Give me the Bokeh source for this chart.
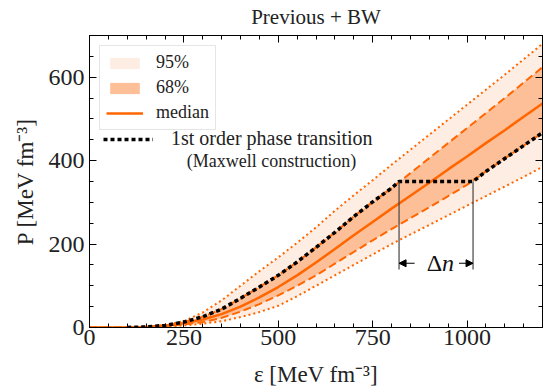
from bokeh.plotting import figure
from bokeh.models import (ColumnDataSource, Legend, LegendItem, LinearAxis, FixedTicker,
                          Label, Arrow, NormalHead, Range1d, CustomLabelingPolicy)
from bokeh.embed import file_html
from bokeh.resources import INLINE

# ---------------- data ----------------
eps = [0, 100, 150, 200, 250, 300, 350, 400, 450, 500, 550, 600, 650, 700, 750,
       800, 850, 900, 950, 1000, 1050, 1100, 1150, 1200]
median = [0, 0, 1, 4, 10, 19, 32, 50, 72, 97, 125, 156, 188, 221, 253,
          285, 316, 347, 379, 410, 442, 473, 505, 537]
upper68 = [0, 0, 1.5, 5, 13, 26, 44, 70, 97, 125, 157, 192, 228, 266, 301,
           334, 370, 406, 442, 478, 514, 550, 587, 624]
lower68 = [0, 0, 1, 3, 7, 13, 23, 38, 56, 77, 100, 125, 153, 181, 209,
           236, 262, 288, 315, 342, 374, 405, 436, 467]
upper95 = [0, 0, 2, 6, 15, 36, 65, 100, 135, 168, 203, 240, 280, 317, 353,
           390, 426, 462, 498, 534, 570, 606, 643, 680]
lower95 = [0, 0, 0.5, 2, 5, 9, 15, 25, 37, 52, 75, 100, 125, 150, 175,
           200, 223, 246, 269, 292, 315, 338, 361, 385]

# first-order phase transition (Maxwell construction)
pt_eps = [100, 150, 200, 250, 300, 350, 400, 450, 500, 550, 600, 650, 700, 750,
          800, 820, 1016, 1050, 1100, 1150, 1200]
pt_P = [0, 1.5, 5, 13, 26, 44, 70, 97, 125, 157, 192, 228, 266, 301,
        334, 350, 350, 374, 405, 436, 467]
trans_start = 820
trans_end = 1016
dn_bottom = 139
dn_arrow_P = 154

x_ticks = [0, 250, 500, 750, 1000]
y_ticks = [0, 200, 400, 600]
x_minor = list(range(0, 1201, 50))
y_minor = list(range(0, 701, 50))

# ---------------- style ----------------
ORANGE = "#ff6600"
C95 = "#feede2"
C68 = "#fdbf97"
FONT = "Liberation Serif"

p = figure(width=547, height=391, output_backend="svg", toolbar_location=None,
           x_range=Range1d(0, 1200), y_range=Range1d(0, 700),
           min_border_left=89, min_border_right=2, min_border_top=32,
           min_border_bottom=64, title="Previous + BW")
p.background_fill_color = "white"
p.border_fill_color = "white"
p.outline_line_color = "black"
p.outline_line_width = 1
p.grid.visible = False

p.title.text_font = FONT
p.title.text_font_size = "21px"
p.title.text_font_style = "normal"
p.title.text_color = "#222222"
p.title.align = "center"
p.title.standoff = 5

HIDE = CustomLabelingPolicy(code="""
for (let i = 0; i < indices.size; i++) { indices.unset(i) }
return indices
""")


def style_axis(ax, ticks, minor, labels=True):
    ax.ticker = FixedTicker(ticks=ticks, minor_ticks=minor)
    ax.major_tick_in = 7
    ax.major_tick_out = 0
    ax.minor_tick_in = 4
    ax.minor_tick_out = 0
    ax.axis_line_color = "black"
    ax.major_tick_line_color = "black"
    ax.minor_tick_line_color = "black"
    ax.major_label_text_font = FONT
    ax.major_label_text_color = "#222222"
    ax.axis_label_text_font = FONT
    ax.axis_label_text_font_style = "normal"
    ax.axis_label_text_color = "#222222"
    if labels:
        ax.major_label_text_font_size = "24px"
        ax.axis_label_text_font_size = "23px"
    else:
        ax.major_label_text_font_size = "1px"
        ax.major_label_standoff = 0
        ax.major_label_policy = HIDE


style_axis(p.xaxis[0], x_ticks, x_minor)
style_axis(p.yaxis[0], y_ticks, y_minor)
p.xaxis[0].major_label_standoff = 2
p.yaxis[0].major_label_standoff = 5
p.xaxis[0].axis_label = "ε [MeV fm⁻³]"
p.yaxis[0].axis_label = "P [MeV fm⁻³]"
p.xaxis[0].axis_label_standoff = 14
p.yaxis[0].axis_label_standoff = 8

top_ax = LinearAxis()
style_axis(top_ax, x_ticks, x_minor, labels=False)
p.add_layout(top_ax, "above")
right_ax = LinearAxis()
style_axis(right_ax, y_ticks, y_minor, labels=False)
p.add_layout(right_ax, "right")

# ---------------- glyphs ----------------
src = ColumnDataSource(dict(eps=eps, median=median, lo68=lower68, hi68=upper68,
                            lo95=lower95, hi95=upper95))
r95 = p.varea(x="eps", y1="lo95", y2="hi95", source=src, fill_color=C95)
r68 = p.varea(x="eps", y1="lo68", y2="hi68", source=src, fill_color=C68)
p.line("eps", "hi95", source=src, color=ORANGE, line_width=2, line_dash="2 3")
p.line("eps", "lo95", source=src, color=ORANGE, line_width=2, line_dash="2 3")
p.line("eps", "hi68", source=src, color=ORANGE, line_width=2, line_dash="8 4")
p.line("eps", "lo68", source=src, color=ORANGE, line_width=2, line_dash="8 4")
rmed = p.line("eps", "median", source=src, color=ORANGE, line_width=2.5)

rpt = p.line(pt_eps, pt_P, color="black", line_width=3.5, line_dash="4 3")

# Delta n markers
p.segment(x0=[trans_start, trans_end], y0=[dn_bottom, dn_bottom],
          x1=[trans_start, trans_end], y1=[pt_P[15], pt_P[16]],
          line_color="#444444", line_width=1.2)
gap_l = trans_start + 0.21 * (trans_end - trans_start)
gap_r = trans_end - 0.19 * (trans_end - trans_start)
p.add_layout(Arrow(end=NormalHead(size=7, fill_color="black", line_color="black"),
                   x_start=gap_l, y_start=dn_arrow_P, x_end=trans_start, y_end=dn_arrow_P,
                   line_width=1.2, line_color="black"))
p.add_layout(Arrow(end=NormalHead(size=7, fill_color="black", line_color="black"),
                   x_start=gap_r, y_start=dn_arrow_P, x_end=trans_end, y_end=dn_arrow_P,
                   line_width=1.2, line_color="black"))
mid = 0.5 * (trans_start + trans_end) + 16
p.add_layout(Label(x=mid, y=dn_arrow_P, text="Δ", text_font=FONT, text_font_size="24px",
                   text_align="right", text_baseline="middle", text_color="#111111"))
p.add_layout(Label(x=mid, y=dn_arrow_P, text="n", text_font=FONT, text_font_size="24px",
                   text_font_style="italic", text_align="left", text_baseline="middle",
                   text_color="#111111"))

# ---------------- legends ----------------
leg = Legend(items=[LegendItem(label="95%", renderers=[r95]),
                    LegendItem(label="68%", renderers=[r68]),
                    LegendItem(label="median", renderers=[rmed])],
             location="top_left", margin=10, padding=6, spacing=4,
             glyph_width=37, glyph_height=14, label_standoff=13, label_height=20,
             label_text_font=FONT, label_text_font_size="18px",
             label_text_color="#222222",
             border_line_color="#cccccc", border_line_width=1,
             background_fill_color="white", background_fill_alpha=0.85)
p.add_layout(leg, "center")

leg2 = Legend(items=[LegendItem(label="1st order phase transition", renderers=[rpt])],
              location=(14, 177), margin=0, padding=0, spacing=0,
              glyph_width=50, glyph_height=14, label_standoff=18, label_height=20,
              label_text_font=FONT, label_text_font_size="20px",
              label_text_color="#222222",
              border_line_alpha=0, background_fill_alpha=0)
p.add_layout(leg2, "center")

p.add_layout(Label(x=182, y=167, x_units="screen", y_units="screen",
                   text="(Maxwell construction)", text_font=FONT, text_font_size="18px",
                   text_align="center", text_baseline="middle", text_color="#222222"))

open("out.html", "w").write(file_html(p, INLINE))
